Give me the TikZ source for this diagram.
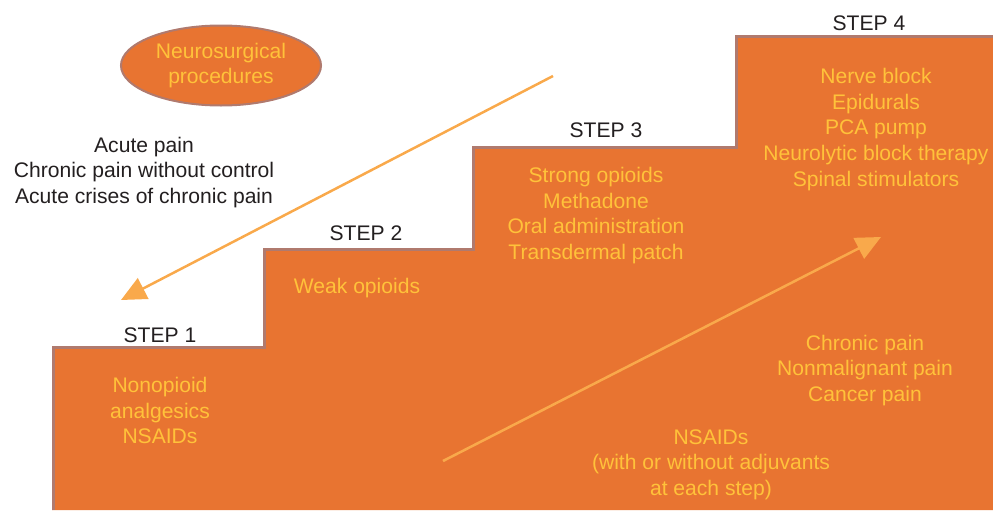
\documentclass[tikz,border=0pt]{standalone}
\usepackage{fontspec}
\setmainfont{Liberation Sans}
\usepackage{xcolor}
\definecolor{stair}{HTML}{E87431}
\definecolor{stairedge}{HTML}{B07A6E}
\definecolor{drug}{HTML}{FFC23A}
\definecolor{flow}{HTML}{F9A94B}
\definecolor{ink}{HTML}{231F20}
\usetikzlibrary{arrows.meta, shapes.geometric}

\begin{document}
\begin{tikzpicture}[x=0.2mm, y=-0.2mm,
  txt/.style={font=\fontsize{12}{14.6}\selectfont, align=center, inner sep=0pt, yshift=-0.5mm},
  drg/.style={txt, text=drug},
  stp/.style={txt, text=ink},
  arr/.style={-{Triangle[length=5mm, width=4.6mm]}, line width=0.5mm, draw=flow}]
  \useasboundingbox (0,0) rectangle (993,510);
  % staircase
  \fill[stair] (52,510) -- (52,346) -- (263,346) -- (263,248) -- (472,248) -- (472,146)
    -- (735,146) -- (735,35) -- (993,35) -- (993,510) -- cycle;
  \draw[stairedge, line width=0.6mm] (53,510) -- (53,347) -- (264,347) -- (264,249) -- (473,249)
    -- (473,147) -- (736,147) -- (736,36) -- (993,36);
  \node[ellipse, draw=stairedge, line width=0.4mm, fill=stair, minimum width=40mm, minimum height=16mm,
        drg] (neuro) at (221,63) {Neurosurgical\\procedures};
  \node[stp] (acute) at (144,170) {Acute pain\\Chronic pain without control\\Acute crises of chronic pain};
  \node[stp] (s1) at (160,333) {STEP 1};
  \node[stp] (s2) at (366,231) {STEP 2};
  \node[stp] (s3) at (606,128) {STEP 3};
  \node[stp] (s4) at (869,21)  {STEP 4};
  \node[drg] (nonop) at (160,408) {Nonopioid\\analgesics\\NSAIDs};
  \node[drg] (weak)  at (357,286) {Weak opioids};
  \node[drg] (strong) at (596,213) {Strong opioids\\Methadone\\Oral administration\\Transdermal patch};
  \node[drg] (invas) at (876,127) {Nerve block\\Epidurals\\PCA pump\\Neurolytic block therapy\\Spinal stimulators};
  \node[drg] (chron) at (865,368) {Chronic pain\\Nonmalignant pain\\Cancer pain};
  \node[drg] (nsaid) at (711,462) {NSAIDs\\(with or without adjuvants\\at each step)};
  \coordinate (downfrom) at (553,76);
  \coordinate (downto)   at (121,300);
  \coordinate (upfrom)   at (443,461);
  \coordinate (upto)     at (881,237);
  \draw[arr] (downfrom) -- (downto);
  \draw[arr] (upfrom) -- (upto);
\end{tikzpicture}
\end{document}
